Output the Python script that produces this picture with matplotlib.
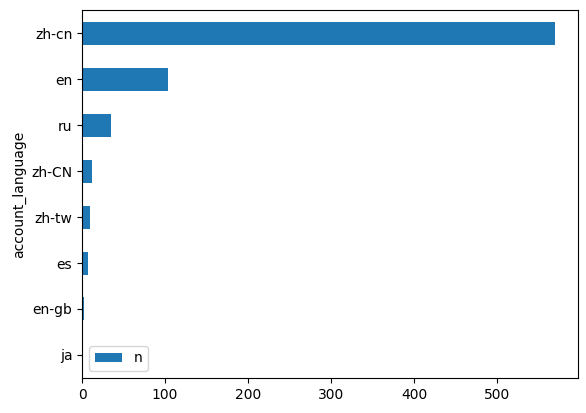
import matplotlib
matplotlib.use("Agg")
import matplotlib.pyplot as plt
import pandas as pd

languages = ["zh-cn", "en", "ru", "zh-CN", "zh-tw", "es", "en-gb", "ja"]
counts = [569, 104, 35, 12, 10, 7, 2, 1]

df = pd.DataFrame({"account_language": languages, "n": counts}).set_index("account_language")
df = df.iloc[::-1]

fig, ax = plt.subplots(figsize=(5.86, 4.13), dpi=100)
df.plot.barh(ax=ax)
ax.legend(loc="lower left")
plt.subplots_adjust(left=0.14, right=0.987, top=0.975, bottom=0.085)
plt.savefig("out.png")
